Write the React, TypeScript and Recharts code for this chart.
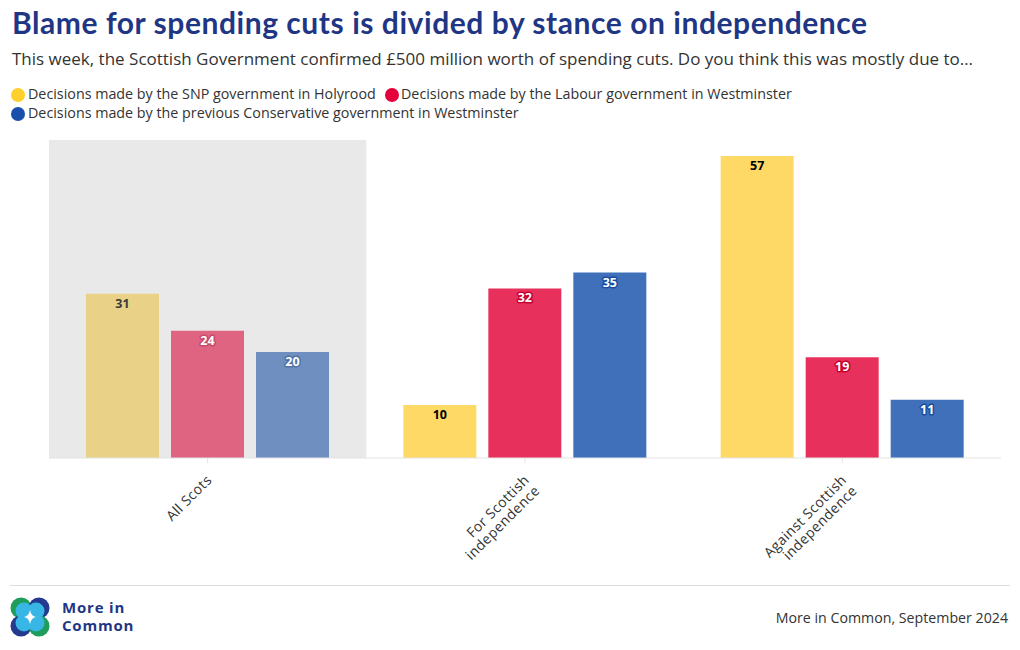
import React from "react";
import { BarChart, Bar, XAxis, YAxis, Cell, LabelList, ReferenceArea } from "recharts";

const categories = ["All Scots", "For Scottish independence", "Against Scottish independence"];
const tickLines = [["All Scots"], ["For Scottish", "independence"], ["Against Scottish", "independence"]];
const seriesNames = [
  "Decisions made by the SNP government in Holyrood",
  "Decisions made by the Labour government in Westminster",
  "Decisions made by the previous Conservative government in Westminster",
];
const snpValues = [31, 10, 57];
const labourValues = [24, 32, 19];
const conservativeValues = [20, 35, 11];

const data = categories.map((c, i) => ({
  name: c,
  snp: snpValues[i],
  labour: labourValues[i],
  con: conservativeValues[i],
}));

const FONT = "'Open Sans', 'DejaVu Sans', sans-serif";
const TITLE_FONT = "Lato, 'Open Sans', sans-serif";

const yellow = ["#E9D287", "#FFD966", "#FFD966"];
const red = ["#DE6482", "#E8305D", "#E8305D"];
const blue = ["#6E8FBF", "#3F70B9", "#3F70B9"];

const makeLabel = (fills: string[], strokes: (string | null)[]) => (props: any) => {
  const vb = props.viewBox || {};
  const x = props.x ?? vb.x;
  const y = props.y ?? vb.y;
  const width = props.width ?? vb.width;
  const index = props.index ?? 0;
  const s = strokes[index];
  return (
    <text
      x={x + width / 2}
      y={y + 14}
      textAnchor="middle"
      fontSize={12.5}
      fontWeight={700}
      fontFamily={FONT}
      fill={fills[index]}
      stroke={s || "none"}
      strokeWidth={s ? 3 : 0}
      strokeLinejoin="round"
      paintOrder="stroke"
    >
      {props.value}
    </text>
  );
};

const CategoryTick = (props: any) => {
  const { x, y, index } = props;
  const lines = tickLines[index] || [String(props.payload?.value)];
  return (
    <g transform={`translate(${x + 5},${y + 16})`}>
      <text transform="rotate(-45)" textAnchor="end" fontSize={14} letterSpacing={0.4} fontFamily={FONT} fill="#333">
        {lines.map((l, i) => (
          <tspan key={i} x={0} dy={i === 0 ? 0 : 15}>
            {l}
          </tspan>
        ))}
      </text>
    </g>
  );
};

export default function App() {
  return (
    <div style={{ position: "absolute", left: 0, top: 0, width: 1020, height: 650, background: "#fff" }}>
      <div style={{ position: "absolute", left: 0, top: 0 }}>
        <BarChart
          width={1020}
          height={580}
          data={data}
          margin={{ top: 140, right: 19, left: 49, bottom: 22 }}
          barCategoryGap={37}
          barGap={12}
        >
          <ReferenceArea x1="All Scots" x2="All Scots" y1={0} y2={60} fill="#E9E9E9" fillOpacity={1} stroke="none" ifOverflow="extendDomain" />
          <XAxis
            dataKey="name"
            interval={0}
            height={100}
            axisLine={{ stroke: "#E3E3E3" }}
            tickLine={{ stroke: "#E3E3E3" }}
            tickSize={5}
            tick={<CategoryTick />}
          />
          <YAxis hide domain={[0, 60]} />
          <Bar dataKey="snp" isAnimationActive={false}>
            {data.map((_, i) => (
              <Cell key={i} fill={yellow[i]} />
            ))}
            <LabelList dataKey="snp" content={makeLabel(["#3a3a3a", "#000", "#000"], [null, null, null])} />
          </Bar>
          <Bar dataKey="labour" isAnimationActive={false}>
            {data.map((_, i) => (
              <Cell key={i} fill={red[i]} />
            ))}
            <LabelList dataKey="labour" content={makeLabel(["#fff", "#fff", "#fff"], ["#C84A6A", "#C5002F", "#C5002F"])} />
          </Bar>
          <Bar dataKey="con" isAnimationActive={false}>
            {data.map((_, i) => (
              <Cell key={i} fill={blue[i]} />
            ))}
            <LabelList dataKey="con" content={makeLabel(["#fff", "#fff", "#fff"], ["#5072A8", "#1B4E9E", "#1B4E9E"])} />
          </Bar>
        </BarChart>
      </div>
      <svg width={1020} height={650} style={{ position: "absolute", left: 0, top: 0, pointerEvents: "none" }}>
        <text x={12} y={34} fontFamily={TITLE_FONT} fontWeight={700} fontSize={30} letterSpacing={0.55} fill="#1F3685">
          Blame for spending cuts is divided by stance on independence
        </text>
        <text x={12} y={65} fontFamily={FONT} fontSize={17} fill="#333">
          This week, the Scottish Government confirmed £500 million worth of spending cuts. Do you think this was mostly due to…
        </text>
        <circle cx={18} cy={95} r={7} fill="#FFD02B" />
        <text x={28} y={99} fontFamily={FONT} fontSize={14.3} fill="#333">
          {seriesNames[0]}
        </text>
        <circle cx={392} cy={95} r={7} fill="#E4003B" />
        <text x={401} y={99} fontFamily={FONT} fontSize={14.3} fill="#333">
          {seriesNames[1]}
        </text>
        <circle cx={18} cy={114} r={7} fill="#1A4FAD" />
        <text x={28} y={118} fontFamily={FONT} fontSize={14.3} fill="#333">
          {seriesNames[2]}
        </text>
        <line x1={10} x2={1010} y1={585.5} y2={585.5} stroke="#DDDDDD" strokeWidth={1} />
        <g>
          <circle cx={21} cy={608} r={10.5} fill="#1E9E5A" />
          <circle cx={39} cy={608} r={10.5} fill="#243A8E" />
          <circle cx={21} cy={626} r={10.5} fill="#243A8E" />
          <circle cx={39} cy={626} r={10.5} fill="#1E9E5A" />
          <circle cx={24} cy={611} r={8.5} fill="#38B6E6" />
          <circle cx={36} cy={611} r={8.5} fill="#38B6E6" />
          <circle cx={24} cy={623} r={8.5} fill="#38B6E6" />
          <circle cx={36} cy={623} r={8.5} fill="#38B6E6" />
          <path d="M30 610 Q31 616 36 617 Q31 618 30 624 Q29 618 24 617 Q29 616 30 610 Z" fill="#fff" />
        </g>
        <text x={62} y={613} fontFamily={FONT} fontWeight={700} fontSize={15} letterSpacing={0.8} fill="#1F3685">
          More in
        </text>
        <text x={62} y={631} fontFamily={FONT} fontWeight={700} fontSize={15} letterSpacing={0.8} fill="#1F3685">
          Common
        </text>
        <text x={1008} y={623} textAnchor="end" fontFamily={FONT} fontSize={14.2} fill="#333">
          More in Common, September 2024
        </text>
      </svg>
    </div>
  );
}
